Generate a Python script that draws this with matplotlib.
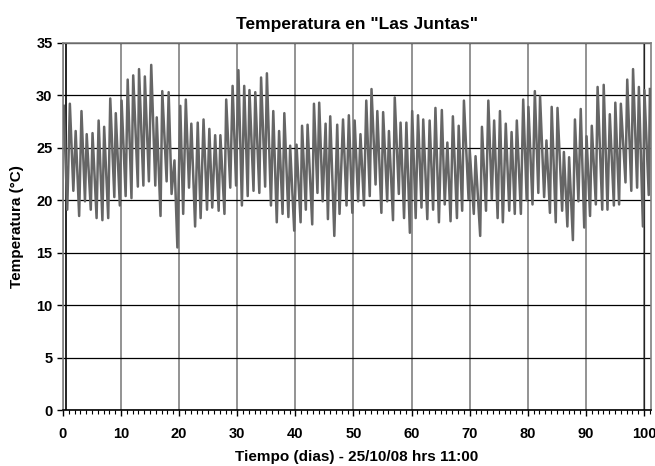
import matplotlib
matplotlib.use("Agg")
import matplotlib.pyplot as plt
from matplotlib.ticker import MultipleLocator

plt.rcParams['font.family'] = ['Liberation Sans', 'DejaVu Sans']

# daily maxima (day, degC)
max_days = [0.15, 1.2, 2.2, 3.2, 4.1, 5.1, 6.15, 7.1, 8.15, 9.1,
            10.1, 11.15, 12.1, 13.1, 14.1, 15.2, 16.15, 17.1, 18.2, 19.2,
            20.2, 21.15, 22.1, 23.2, 24.2, 25.2, 26.2, 27.1, 28.1, 29.2,
            30.2, 31.2, 32.1, 33.1, 34.1, 35.1, 36.2, 37.2, 38.1, 39.1,
            40.2, 41.15, 42.1, 43.2, 44.1, 45.2, 46.0, 47.2, 48.2, 49.2,
            50.2, 51.2, 52.2, 53.1, 54.1, 55.1, 56.1, 57.1, 58.1, 59.1,
            60.1, 61.1, 62.0, 63.1, 64.1, 65.2, 66.15, 67.1, 68.1, 69.0,
            70.0, 71.0, 72.1, 73.2, 74.2, 75.2, 76.2, 77.2, 78.1, 79.2,
            80.1, 81.2, 82.1, 83.2, 84.1, 85.1, 86.2, 87.1, 88.1, 89.1,
            90.1, 91.0, 92.0, 93.05, 94.1, 95.05, 96.0, 97.1, 98.1, 99.1,
            100.05, 101.0]
max_temp = [29.0, 29.2, 26.6, 28.5, 26.3, 26.4, 27.6, 27.0, 29.7, 28.3,
            29.5, 31.5, 31.9, 32.5, 31.8, 32.9, 27.9, 30.4, 30.3, 23.8,
            29.0, 29.6, 27.3, 27.4, 27.7, 26.8, 26.2, 26.2, 29.6, 30.9,
            32.4, 30.9, 30.5, 30.3, 31.7, 32.1, 28.5, 26.6, 28.3, 25.2,
            25.3, 27.1, 27.2, 29.2, 29.3, 27.3, 28.0, 27.2, 27.7, 28.1,
            27.6, 26.3, 29.5, 30.6, 28.5, 28.4, 26.6, 29.8, 27.4, 27.4,
            28.5, 28.1, 27.7, 27.6, 28.8, 28.6, 25.5, 28.0, 27.1, 29.5,
            24.8, 24.2, 27.0, 29.5, 27.6, 28.5, 27.3, 26.5, 27.6, 29.6,
            28.9, 30.4, 29.9, 25.7, 28.9, 28.8, 24.6, 24.1, 27.7, 28.7,
            26.1, 27.1, 30.8, 31.0, 28.2, 29.3, 29.2, 31.5, 32.5, 30.8,
            30.5, 30.6]

# daily minima (day, degC)
min_days = [0.75, 1.8, 2.8, 3.8, 4.8, 5.8, 6.8, 7.8, 8.85, 9.8,
            10.8, 11.8, 12.9, 13.85, 14.8, 15.9, 16.8, 17.85, 18.7, 19.7,
            20.7, 21.7, 22.75, 23.7, 24.8, 25.7, 26.8, 27.8, 28.8, 29.8,
            30.8, 31.8, 32.8, 33.8, 34.8, 35.8, 36.8, 37.8, 38.8, 39.8,
            40.9, 41.8, 42.9, 43.8, 44.7, 45.6, 46.7, 47.6, 48.8, 49.8,
            50.8, 51.8, 52.8, 53.8, 54.8, 55.8, 56.8, 57.8, 58.7, 59.7,
            60.7, 61.7, 62.7, 63.7, 64.7, 65.7, 66.7, 67.8, 68.7, 69.8,
            70.7, 71.8, 72.8, 73.8, 74.8, 75.7, 76.8, 77.75, 78.8, 79.8,
            80.8, 81.8, 82.8, 83.8, 84.8, 85.9, 86.8, 87.75, 88.7, 89.7,
            90.7, 91.7, 92.8, 93.7, 94.8, 95.7, 96.8, 97.8, 98.8, 99.8,
            100.8]
min_temp = [19.1, 20.9, 18.5, 19.9, 19.1, 18.3, 18.1, 18.3, 20.3, 19.5,
            20.4, 20.2, 21.3, 21.4, 21.8, 21.4, 18.5, 21.8, 20.6, 15.5,
            18.7, 21.2, 17.5, 18.3, 19.1, 19.3, 19.0, 18.7, 21.2, 21.4,
            19.5, 20.4, 20.9, 20.7, 21.3, 19.5, 17.9, 18.7, 18.4, 17.1,
            17.9, 19.1, 17.7, 20.7, 19.9, 18.2, 16.6, 18.7, 19.5, 18.8,
            19.9, 19.5, 20.4, 21.5, 18.8, 19.9, 18.1, 20.6, 18.3, 16.9,
            18.3, 19.3, 18.2, 19.1, 17.9, 19.6, 18.0, 18.3, 19.0, 20.1,
            18.7, 16.6, 19.0, 20.1, 18.3, 17.9, 19.0, 18.7, 18.7, 20.0,
            19.6, 20.7, 20.3, 18.8, 17.9, 19.0, 17.5, 16.2, 19.9, 17.4,
            18.5, 19.6, 19.1, 19.1, 19.5, 19.6, 21.7, 20.9, 21.2, 17.5,
            20.5]

# merge maxima and minima in time order
pts = sorted(zip(max_days + min_days, max_temp + min_temp))
t = [p[0] for p in pts]
temp = [p[1] for p in pts]

fig = plt.figure(figsize=(6.55, 4.66), dpi=100)
ax = fig.add_axes([0.096, 0.12, 0.898, 0.788])

ax.plot(t, temp, color='#666666', lw=1.8, zorder=3)

ax.set_xlim(0, 101.2)
ax.set_ylim(0, 35)
ax.xaxis.set_major_locator(MultipleLocator(10))
ax.xaxis.set_minor_locator(MultipleLocator(1))
ax.yaxis.set_major_locator(MultipleLocator(5))

ax.grid(axis='y', color='black', lw=0.9, zorder=1)
ax.grid(axis='x', which='major', color='#808080', lw=1.2, zorder=1)
ax.axvline(0.5, color='black', lw=1.2, zorder=2)
ax.axvline(100, color='#222222', lw=0.9, zorder=2)

for s in ax.spines.values():
    s.set_color('#808080')
    s.set_linewidth(1.2)
ax.spines['bottom'].set_color('black')

ax.tick_params(axis='both', which='major', direction='out', length=4,
               labelsize=10.5, width=1)
ax.tick_params(axis='x', which='major', pad=8)
ax.tick_params(axis='x', which='minor', direction='out', length=3, width=0.8)
for lab in ax.get_xticklabels() + ax.get_yticklabels():
    lab.set_fontweight('bold')

ax.set_title('Temperatura en "Las Juntas"', fontsize=12.5, fontweight='bold', pad=10)
ax.set_xlabel('Tiempo (dias) - 25/10/08 hrs 11:00', fontsize=11, fontweight='bold',
              labelpad=7)
ax.set_ylabel('Temperatura (\u00b0C)', fontsize=11, fontweight='bold', labelpad=9)

fig.savefig('out.png', dpi=100)
